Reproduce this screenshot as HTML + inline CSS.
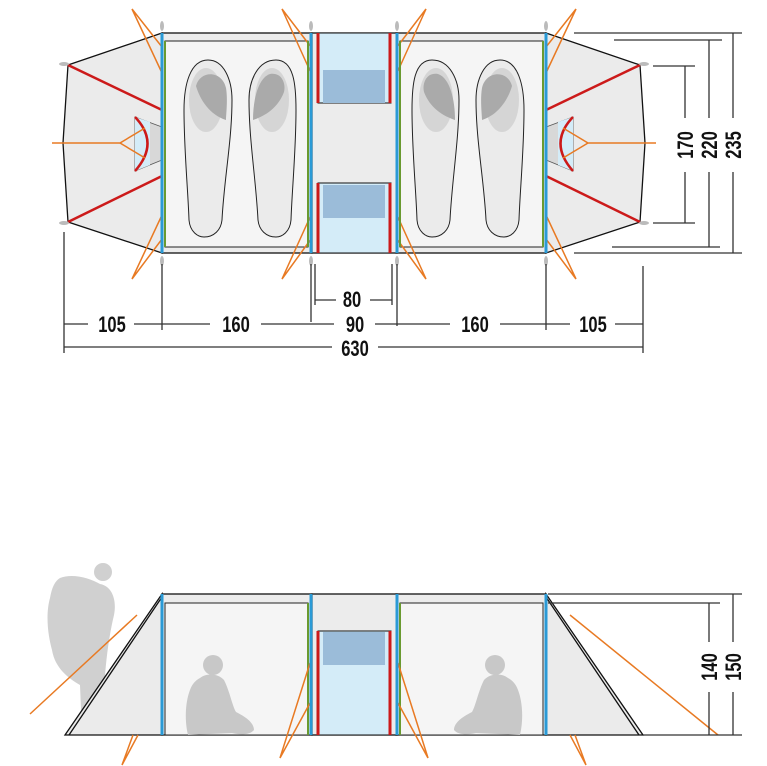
<!DOCTYPE html>
<html><head><meta charset="utf-8"><style>
html,body{margin:0;padding:0;background:#fff;}
svg{display:block}
text{font-family:"Liberation Sans",sans-serif;font-weight:bold;font-size:22px;fill:#111}
</style></head><body>
<svg width="767" height="766" viewBox="0 0 767 766" xmlns="http://www.w3.org/2000/svg">
<defs>
<g id="halfTop">
  <polygon points="162,33 68,65 63,143 68,222 162,253" fill="#ebebeb" stroke="#111" stroke-width="1.3"/>
  <rect x="162" y="33" width="150" height="220" fill="#ececec" stroke="#111" stroke-width="1.3"/>
  <rect x="165" y="41" width="143" height="206" fill="#f5f5f5" stroke="#222" stroke-width="1"/>
  <path d="M208,60 C190,60 184,85 184,110 C184,150 188,190 189,220 C190,232 198,237 204,237 C214,237 221,230 222,220 C224,180 232,140 232,100 C232,80 224,60 208,60Z" fill="#ebebeb" stroke="#222" stroke-width="1"/>
  <ellipse cx="206" cy="100" rx="17" ry="32" fill="#d5d5d5"/>
  <path d="M196,86 C200,70 222,70 226,88 C228,100 226,115 226,120 C210,115 200,100 196,86Z" fill="#aaa"/>
  <path d="M276,60 C294,60 296,85 296,110 C296,150 292,190 291,220 C290,232 282,237 276,237 C266,237 259,230 258,220 C256,180 249,140 249,100 C249,80 258,60 276,60Z" fill="#ebebeb" stroke="#222" stroke-width="1"/>
  <ellipse cx="272" cy="100" rx="17" ry="32" fill="#d5d5d5"/>
  <path d="M253,120 C253,100 258,78 270,74 C282,72 286,84 284,92 C278,108 265,116 253,120Z" fill="#aaa"/>
  <polygon points="135,117 162,127 162,160 135,171" fill="#d8d8d8" stroke="#555" stroke-width="0.8"/>
  <polygon points="135,117 150,122 150,165 135,171" fill="#d4ecf8"/>
  <path d="M135,117 Q160,143 135,171" fill="none" stroke="#cc1a1a" stroke-width="2.5"/>
  <line x1="68" y1="65" x2="162" y2="110" stroke="#cc1a1a" stroke-width="2.5"/>
  <line x1="68" y1="222" x2="162" y2="176" stroke="#cc1a1a" stroke-width="2.5"/>
  <g stroke="#e87a23" stroke-width="1.5" fill="none">
    <polyline points="52,143 120,143 145,128"/><line x1="120" y1="143" x2="145" y2="158"/>
    <polyline points="162,47 132,9 162,73"/>
    <polyline points="162,239 132,279 162,215"/>
    <polyline points="311,47 282,9 311,73"/>
    <polyline points="311,239 282,279 311,215"/>
  </g>
  <line x1="165" y1="41" x2="165" y2="247" stroke="#6a9a30" stroke-width="2"/>
  <line x1="308" y1="41" x2="308" y2="247" stroke="#6a9a30" stroke-width="2"/>
  <line x1="162" y1="33" x2="162" y2="253" stroke="#2a9ad6" stroke-width="3"/>
  <line x1="311" y1="33" x2="311" y2="253" stroke="#2a9ad6" stroke-width="3"/>
  <g fill="#bbb">
    <ellipse cx="162" cy="26" rx="2" ry="5"/><ellipse cx="162" cy="261" rx="2" ry="5"/>
    <ellipse cx="311" cy="26" rx="2" ry="5"/><ellipse cx="311" cy="261" rx="2" ry="5"/>
    <ellipse cx="64" cy="64" rx="5" ry="2"/><ellipse cx="64" cy="223" rx="5" ry="2"/>
  </g>
</g>
<g id="halfSide">
  <polygon points="162,594 65,735 162,735" fill="#ebebeb" stroke="#111" stroke-width="1.3"/>
  <line x1="69" y1="735" x2="162" y2="597" stroke="#111" stroke-width="1.3"/>
  <rect x="162" y="594" width="150" height="141" fill="#ececec" stroke="#111" stroke-width="1.3"/>
  <rect x="165" y="603" width="143" height="132" fill="#f5f5f5" stroke="#222" stroke-width="1"/>
  <g fill="#c8c8c8">
    <circle cx="213" cy="665" r="10"/>
    <path d="M200,678 C206,673 218,673 224,680 C230,692 232,705 236,712 C244,716 254,722 254,730 C250,735 240,735 232,733 L188,735 C184,718 186,700 190,690 C192,684 196,680 200,678Z"/>
  </g>
  <line x1="308" y1="603" x2="308" y2="735" stroke="#6a9a30" stroke-width="2"/>
  <line x1="162" y1="594" x2="162" y2="735" stroke="#2a9ad6" stroke-width="3"/>
  <line x1="311" y1="594" x2="311" y2="735" stroke="#2a9ad6" stroke-width="3"/>
  <g stroke="#e87a23" stroke-width="1.5" fill="none">
    <polyline points="133,735 122,765 138,735"/>
    <polyline points="310,663 280,758 310,703"/>
  </g>
</g>
</defs>

<use href="#halfTop"/>
<use href="#halfTop" transform="translate(708,0) scale(-1,1)"/>
<rect x="312" y="33" width="85" height="220" fill="#ececec" stroke="#111" stroke-width="1.3"/>
<rect x="318" y="33" width="73" height="70" fill="#d4ecf8" stroke="#111" stroke-width="1"/>
<rect x="318" y="183" width="73" height="70" fill="#d4ecf8" stroke="#111" stroke-width="1"/>
<rect x="323" y="70" width="62" height="33" fill="#9bbcd9"/>
<rect x="323" y="185" width="62" height="33" fill="#9bbcd9"/>
<g stroke="#cc1a1a" stroke-width="3">
  <line x1="318" y1="33" x2="318" y2="103"/><line x1="390" y1="33" x2="390" y2="103"/>
  <line x1="318" y1="183" x2="318" y2="253"/><line x1="390" y1="183" x2="390" y2="253"/>
</g>
<line x1="311" y1="33" x2="311" y2="253" stroke="#2a9ad6" stroke-width="3"/>
<line x1="397" y1="33" x2="397" y2="253" stroke="#2a9ad6" stroke-width="3"/>

<g stroke="#333" stroke-width="1.3" fill="none">
  <line x1="64" y1="232" x2="64" y2="353"/><line x1="643" y1="266" x2="643" y2="353"/>
  <line x1="162" y1="264" x2="162" y2="330"/><line x1="546" y1="264" x2="546" y2="330"/>
  <line x1="311" y1="264" x2="311" y2="322"/><line x1="397" y1="264" x2="397" y2="326"/>
  <line x1="315" y1="264" x2="315" y2="305"/><line x1="392" y1="264" x2="392" y2="305"/>
  <line x1="315" y1="300" x2="336" y2="300"/><line x1="370" y1="300" x2="392" y2="300"/>
  <line x1="64" y1="324" x2="88" y2="324"/><line x1="134" y1="324" x2="210" y2="324"/>
  <line x1="261" y1="324" x2="334" y2="324"/><line x1="375" y1="324" x2="450" y2="324"/>
  <line x1="500" y1="324" x2="570" y2="324"/><line x1="615" y1="324" x2="643" y2="324"/>
  <line x1="64" y1="347" x2="332" y2="347"/><line x1="378" y1="347" x2="643" y2="347"/>
  <line x1="653" y1="66" x2="695" y2="66"/><line x1="653" y1="223" x2="695" y2="223"/>
  <line x1="685" y1="66" x2="685" y2="118"/><line x1="685" y1="172" x2="685" y2="223"/>
  <line x1="614" y1="40" x2="722" y2="40"/><line x1="612" y1="247" x2="720" y2="247"/>
  <line x1="709" y1="40" x2="709" y2="118"/><line x1="709" y1="172" x2="709" y2="247"/>
  <line x1="574" y1="33" x2="742" y2="33"/><line x1="574" y1="253" x2="742" y2="253"/>
  <line x1="733" y1="33" x2="733" y2="118"/><line x1="733" y1="172" x2="733" y2="253"/>
</g>
<g text-anchor="middle">
  <text transform="translate(352,307) scale(0.75,1)">80</text>
  <text transform="translate(112,332) scale(0.75,1)">105</text>
  <text transform="translate(236,332) scale(0.75,1)">160</text>
  <text transform="translate(355,332) scale(0.75,1)">90</text>
  <text transform="translate(475,332) scale(0.75,1)">160</text>
  <text transform="translate(593,332) scale(0.75,1)">105</text>
  <text transform="translate(355,356) scale(0.75,1)">630</text>
  <text transform="translate(693,145) rotate(-90) scale(0.75,1)">170</text>
  <text transform="translate(717,145) rotate(-90) scale(0.75,1)">220</text>
  <text transform="translate(741,145) rotate(-90) scale(0.75,1)">235</text>
  <text transform="translate(717,667) rotate(-90) scale(0.75,1)">140</text>
  <text transform="translate(741,667) rotate(-90) scale(0.75,1)">150</text>
</g>

<g fill="#d0d0d0">
  <circle cx="103" cy="572" r="9"/>
  <path d="M60,578 C72,573 90,578 100,584 C112,586 117,600 114,615 C110,632 106,655 104,690 L104,735 L82,735 L80,685 C68,678 55,668 52,650 C47,632 46,612 50,598 C52,587 55,581 60,578Z"/>
</g>
<use href="#halfSide"/>
<use href="#halfSide" transform="translate(708,0) scale(-1,1)"/>
<g stroke="#e87a23" stroke-width="1.5">
  <line x1="30" y1="714" x2="137" y2="615"/>
  <line x1="570" y1="615" x2="718" y2="735"/>
</g>
<rect x="312" y="594" width="85" height="141" fill="#ececec" stroke="#111" stroke-width="1.3"/>
<rect x="318" y="631" width="73" height="104" fill="#d4ecf8" stroke="#111" stroke-width="1"/>
<rect x="323" y="632" width="62" height="33" fill="#9bbcd9"/>
<line x1="318" y1="631" x2="318" y2="735" stroke="#cc1a1a" stroke-width="3"/>
<line x1="390" y1="631" x2="390" y2="735" stroke="#cc1a1a" stroke-width="3"/>
<line x1="311" y1="594" x2="311" y2="735" stroke="#2a9ad6" stroke-width="3"/>
<line x1="397" y1="594" x2="397" y2="735" stroke="#2a9ad6" stroke-width="3"/>
<g stroke="#333" stroke-width="1.3">
  <line x1="548" y1="594" x2="742" y2="594"/><line x1="548" y1="603" x2="720" y2="603"/>
  <line x1="643" y1="735" x2="742" y2="735"/>
  <line x1="709" y1="603" x2="709" y2="642"/><line x1="709" y1="692" x2="709" y2="735"/>
  <line x1="733" y1="594" x2="733" y2="642"/><line x1="733" y1="692" x2="733" y2="735"/>
</g>
</svg>
</body></html>
